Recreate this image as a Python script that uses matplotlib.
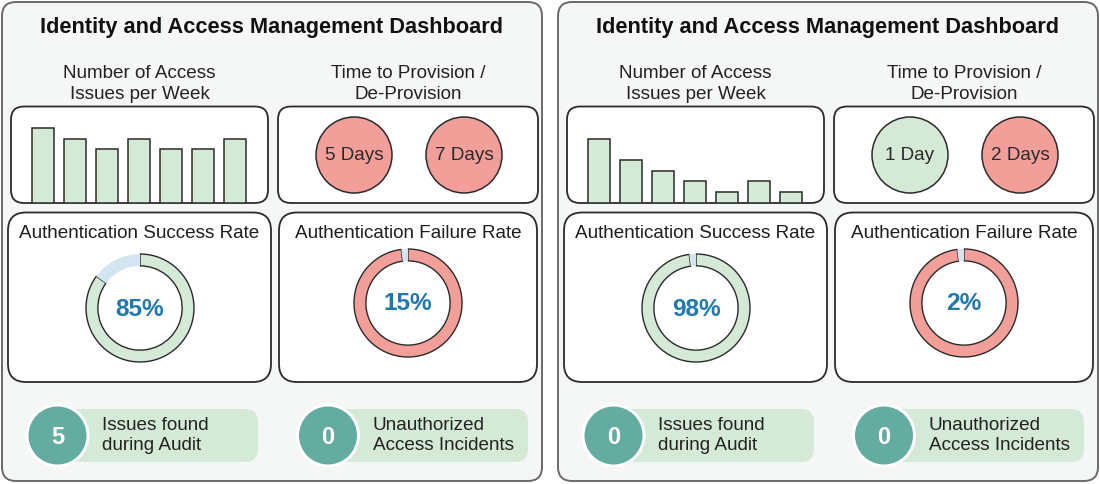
import matplotlib
matplotlib.use("Agg")
import matplotlib.pyplot as plt
from matplotlib.patches import FancyBboxPatch, Circle

plt.rcParams['font.family'] = ['Liberation Sans', 'DejaVu Sans']

# data for the two dashboard panels
dashboard_title = "Identity and Access Management Dashboard"
weekly_issues = [[7, 6, 5, 6, 5, 5, 6],
                 [6, 4, 3, 2, 1, 2, 1]]
provision_labels = [["5 Days", "7 Days"], ["1 Day", "2 Days"]]
provision_days = [[5, 7], [1, 2]]
success_rate = [85, 98]
failure_rate = [15, 2]
failure_ring = [98, 98]   # share of the failure ring drawn in red
audit_issues = [5, 0]
unauthorized_incidents = [0, 0]

W, H = 1100, 484
GREEN = "#d5ead6"
RED = "#f29f9a"
LIGHT_BLUE = "#d3e5f1"
TEAL = "#64aba0"
BLUE_TXT = "#1f78ae"
EDGE = "#2b2b2b"
FS = 13.6

fig = plt.figure(figsize=(W / 100, H / 100), dpi=100)
ax = fig.add_axes([0, 0, 1, 1])
ax.set_xlim(0, W)
ax.set_ylim(H, 0)
ax.axis("off")


def rect(x0, y0, x1, y1):
    return [x0 / W, 1 - y1 / H, (x1 - x0) / W, (y1 - y0) / H]


def rbox(x0, y0, x1, y1, r, fc, ec, lw, z=1):
    p = FancyBboxPatch((x0, y0), x1 - x0, y1 - y0,
                       boxstyle=f"round,pad=0,rounding_size={r}",
                       fc=fc, ec=ec, lw=lw, zorder=z)
    ax.add_patch(p)


def ring(cx, cy, r, share, color):
    a = fig.add_axes(rect(cx - r * 1.03, cy - r * 1.03, cx + r * 1.03, cy + r * 1.03))
    wedges, _ = a.pie([share, 100 - share], colors=[color, LIGHT_BLUE],
                      startangle=90, counterclock=False, radius=1,
                      wedgeprops=dict(width=0.22, linewidth=1.0))
    wedges[0].set_edgecolor(EDGE)
    wedges[1].set_edgecolor("none")
    a.set_xlim(-1.03, 1.03)
    a.set_ylim(-1.03, 1.03)
    a.axis("off")


for i, dx in enumerate([0, 556]):
    # outer panel
    rbox(2 + dx, 2, 542 + dx, 481, 14, "#f5f7f6", "#6a6a6a", 1.4, z=0)
    ax.text(272 + dx, 27, dashboard_title, ha="center", va="center",
            fontsize=15.7, fontweight="bold", color="#111111")

    # subtitles
    ax.text(139.5 + dx, 84, "Number of Access\nIssues per Week", ha="center",
            va="center", fontsize=FS, color="#222222", linespacing=1.3)
    ax.text(408 + dx, 84, "Time to Provision /\nDe-Provision", ha="center",
            va="center", fontsize=FS, color="#222222", linespacing=1.3)

    # bar chart box
    rbox(11 + dx, 106.5, 268 + dx, 203, 13, "white", EDGE, 1.3)
    bax = fig.add_axes(rect(11 + dx, 106.5, 268 + dx, 202.5))
    bax.bar(range(len(weekly_issues[i])), weekly_issues[i], width=0.6875,
            color=GREEN, edgecolor=EDGE, linewidth=1.1)
    bax.set_xlim(-1.0, 7.03)
    bax.set_ylim(0, 9.0)
    bax.axis("off")

    # provisioning box
    rbox(278 + dx, 106.5, 538 + dx, 203, 13, "white", EDGE, 1.3)
    for k, (lab, d) in enumerate(zip(provision_labels[i], provision_days[i])):
        cx = 354 + 110 * k + dx
        ax.add_patch(Circle((cx, 155), 38, fc=GREEN if d <= 1 else RED,
                            ec=EDGE, lw=1.1, zorder=2))
        ax.text(cx, 156, lab, ha="center", va="center", fontsize=FS,
                color="#2a2a2a", zorder=3)

    # authentication boxes
    rbox(8 + dx, 212.5, 271 + dx, 382, 18, "white", EDGE, 1.3)
    rbox(279 + dx, 212.5, 537 + dx, 382, 18, "white", EDGE, 1.3)
    ax.text(139.5 + dx, 233, "Authentication Success Rate", ha="center",
            va="center", fontsize=FS, color="#1e1e1e")
    ax.text(408 + dx, 233, "Authentication Failure Rate", ha="center",
            va="center", fontsize=FS, color="#1e1e1e")
    ring(140 + dx, 308, 54, success_rate[i], GREEN)
    ring(408 + dx, 303, 54, failure_ring[i], RED)
    ax.text(140 + dx, 309, f"{success_rate[i]}%", ha="center", va="center",
            fontsize=17.6, fontweight="bold", color=BLUE_TXT, zorder=5)
    ax.text(408 + dx, 304, f"{failure_rate[i]}%", ha="center", va="center",
            fontsize=17.6, fontweight="bold", color=BLUE_TXT, zorder=5)

    # bottom badges
    for cx, right, num, txt in [(57.5, 258, audit_issues[i], "Issues found\nduring Audit"),
                                (328, 528, unauthorized_incidents[i], "Unauthorized\nAccess Incidents")]:
        rbox(cx + dx, 409, right + dx, 462, 13, GREEN, "none", 0)
        ax.add_patch(Circle((cx + dx, 435.5), 32, fc="white", ec="none", zorder=2))
        ax.add_patch(Circle((cx + dx, 435.5), 29, fc=TEAL, ec="none", zorder=3))
        ax.text(cx + dx, 437, str(num), ha="center", va="center", fontsize=17,
                fontweight="bold", color="white", zorder=4)
        ax.text(cx + 45 + dx, 435.5, txt, ha="left", va="center", fontsize=FS,
                color="#222222", linespacing=1.3, zorder=4)

fig.savefig("out.png", dpi=100)
